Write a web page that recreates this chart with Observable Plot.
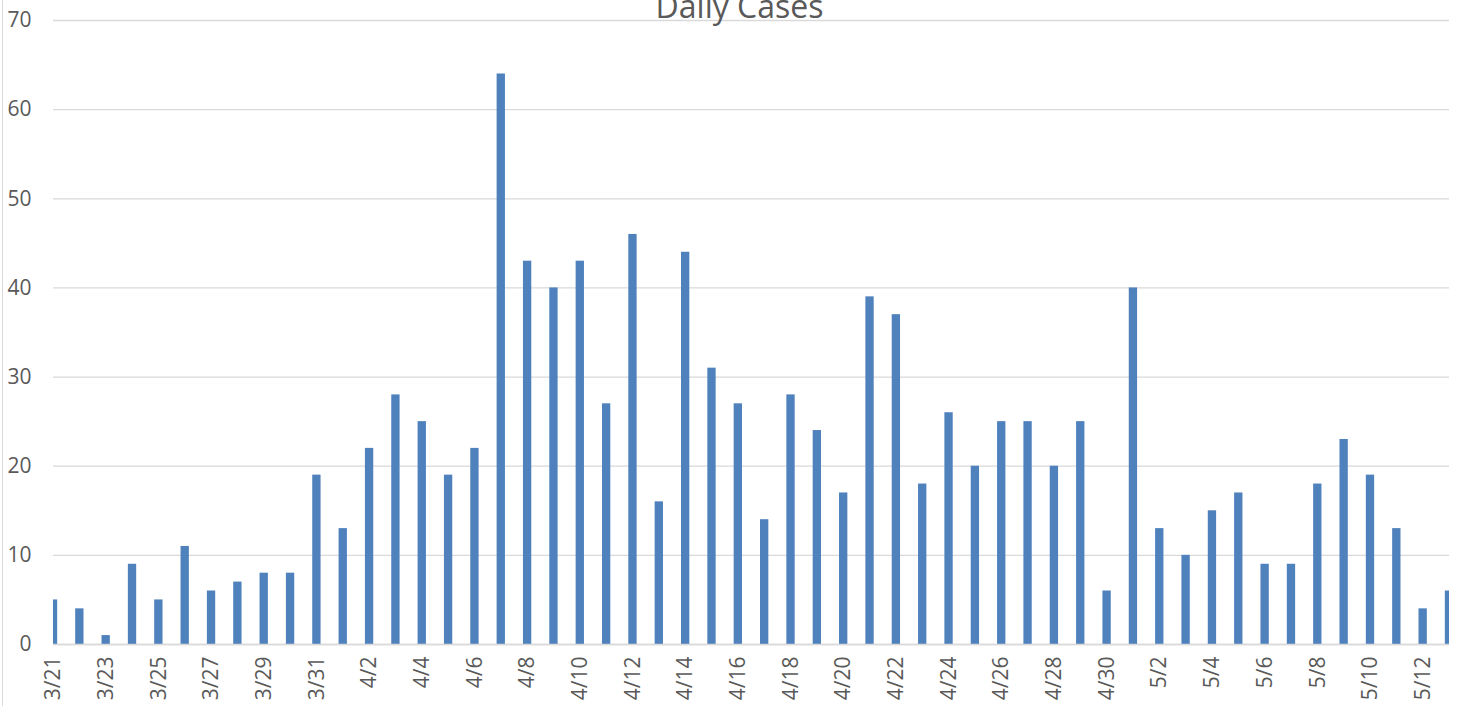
<!DOCTYPE html>
<html>
<head>
<meta charset="utf-8">
<script src="https://cdn.jsdelivr.net/npm/d3@7"></script>
<script src="https://cdn.jsdelivr.net/npm/@observablehq/plot@0.6"></script>
<style>
  html, body { margin: 0; padding: 0; background: #fff; }
  #wrap { position: relative; width: 1460px; height: 706px; overflow: hidden; }
  #border { position: absolute; left: 2px; top: 0; width: 1px; height: 706px; background: #d9d9d9; }
  svg { font-family: "Open Sans", sans-serif; }
</style>
</head>
<body>
<div id="wrap"><div id="border"></div></div>
<script>
const title = "Daily Cases";
const dates = [
  "3/21","3/22","3/23","3/24","3/25","3/26","3/27","3/28","3/29","3/30","3/31",
  "4/1","4/2","4/3","4/4","4/5","4/6","4/7","4/8","4/9","4/10",
  "4/11","4/12","4/13","4/14","4/15","4/16","4/17","4/18","4/19","4/20",
  "4/21","4/22","4/23","4/24","4/25","4/26","4/27","4/28","4/29","4/30",
  "5/1","5/2","5/3","5/4","5/5","5/6","5/7","5/8","5/9","5/10","5/11","5/12","5/13"
];
const cases = [
  5,4,1,9,5,11,6,7,8,8,19,
  13,22,28,25,19,22,64,43,40,43,
  27,46,16,44,31,27,14,28,24,17,
  39,37,18,26,20,25,25,20,25,6,
  40,13,10,15,17,9,9,18,23,19,13,4,6
];
const yTicks = [0,10,20,30,40,50,60,70];

const data = dates.map((d, i) => ({i, date: d, value: cases[i]}));
const halfBar = 0.158;
const xTicks = dates.map((d, i) => i).filter(i => i % 2 === 0);

const chart = Plot.plot({
  width: 1460,
  height: 706,
  marginLeft: 53,
  marginRight: 11,
  marginTop: 20,
  marginBottom: 62,
  style: {fontFamily: "'Open Sans', sans-serif", fontSize: "21px", color: "#595959", background: "transparent"},
  x: {type: "linear", domain: [0, dates.length - 1]},
  y: {domain: [0, 70]},
  marks: [
    Plot.gridY(yTicks, {stroke: "#d9d9d9", strokeOpacity: 1, strokeWidth: 1.3}),
    Plot.rectY(data, {x1: d => d.i - halfBar, x2: d => d.i + halfBar, y1: 0, y2: "value", fill: "#4f81bd", clip: true}),
    Plot.ruleY([0], {stroke: "#d9d9d9", strokeWidth: 1.5}),
    Plot.axisY(yTicks, {tickSize: 0, tickPadding: 22, label: null, fill: "#595959", fontSize: 21}),
    Plot.axisX(xTicks, {tickSize: 0, tickPadding: 12, tickRotate: -90, tickFormat: i => dates[i], label: null, fill: "#595959", fontSize: 21}),
    Plot.text([title], {text: d => d, frameAnchor: "top", dx: -12, dy: -3, lineAnchor: "bottom", fontSize: 32, fill: "#595959"})
  ]
});
document.getElementById("wrap").appendChild(chart);
</script>
</body>
</html>
